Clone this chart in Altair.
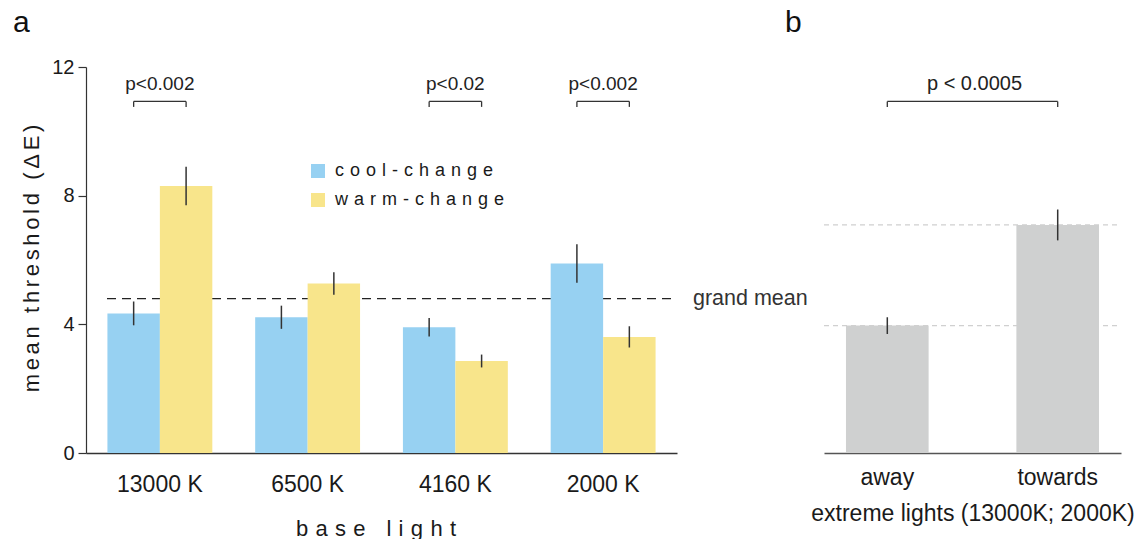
import altair as alt
import pandas as pd

# ---- data -------------------------------------------------------------
lights = ["13000 K", "6500 K", "4160 K", "2000 K"]
conditions = ["cool-change", "warm-change"]
cool_mean = [4.34, 4.22, 3.91, 5.89]
cool_err = [0.37, 0.36, 0.29, 0.60]
warm_mean = [8.30, 5.27, 2.86, 3.61]
warm_err = [0.60, 0.35, 0.20, 0.33]

sig_lights = ["13000 K", "4160 K", "2000 K"]
sig_labels = ["p<0.002", "p<0.02", "p<0.002"]

directions = ["away", "towards"]
dir_mean = [3.96, 7.09]
dir_err = [0.26, 0.48]
dir_p = "p < 0.0005"

# ---- style --------------------------------------------------------------
FONT = "Liberation Sans"
COOL = "#97D1F2"
WARM = "#F8E58B"
GREY = "#CFD0D0"
INK = "#333333"
WA, WB, H = 591, 297, 386
BRACKET_Y, BRACKET_FOOT, P_Y = 10.93, 10.76, 11.47
Y_SCALE = alt.Scale(domain=[0, 12], nice=False, zero=True)


def spaced(text, gap):
    return gap.join(text)


bars_df = pd.DataFrame({
    "light": lights * 2,
    "condition": [conditions[0]] * 4 + [conditions[1]] * 4,
    "value": cool_mean + warm_mean,
    "err": cool_err + warm_err,
})
sig_df = pd.DataFrame({"light": sig_lights, "label": sig_labels})
feet_df = sig_df.merge(pd.DataFrame({"condition": conditions}), how="cross")

x_a = alt.Scale(domain=lights, paddingInner=0.29, paddingOuter=0.145)
x_b = alt.Scale(domain=directions, paddingInner=0.515, paddingOuter=0.129)

y_axis_a = alt.Axis(values=[0, 4, 8, 12], grid=False, tickSize=8, labelPadding=4,
                    labelFontSize=20, labelFont=FONT, labelColor="#1a1a1a",
                    domainColor=INK, tickColor=INK, domainWidth=1.2, tickWidth=1.2,
                    titleFontSize=22, titleFont=FONT, titleFontWeight="normal",
                    titleColor="#1a1a1a", titleX=-48, titleY=H / 2 - 2,
                    titleBaseline="alphabetic")
Y_TITLE = spaced("mean threshold (ΔE)", "\u2006")

# ---- panel a ------------------------------------------------------------
base_a = alt.Chart(bars_df)

grand = base_a.transform_aggregate(grand="mean(value)")
grand_rule = grand.mark_rule(strokeDash=[9, 6], color="#222222", strokeWidth=1.2).encode(
    y=alt.Y("grand:Q", scale=Y_SCALE, title=Y_TITLE, axis=y_axis_a),
    x=alt.value(21), x2=alt.value(WA),
)
grand_text = grand.mark_text(align="left", baseline="middle", fontSize=21.5, font=FONT,
                             color="#333333").encode(
    y=alt.Y("grand:Q", scale=Y_SCALE, title=Y_TITLE),
    x=alt.value(WA + 16),
    text=alt.value("grand mean"),
)

bars = base_a.mark_bar().encode(
    x=alt.X("light:N", scale=x_a, title=spaced("base light", "\u2004"),
            axis=alt.Axis(labelAngle=0, ticks=False, tickSize=0, labelPadding=20,
                          labelFontSize=23, labelFont=FONT, labelColor="#1a1a1a",
                          domainColor=INK, domainWidth=1.5,
                          titleFontSize=22, titleFont=FONT, titleFontWeight="normal",
                          titleColor="#1a1a1a", titleX=WA / 2 - 6, titleY=82,
                          titleBaseline="alphabetic")),
    xOffset=alt.XOffset("condition:N", sort=conditions),
    y=alt.Y("value:Q", scale=Y_SCALE, title=Y_TITLE),
    color=alt.Color("condition:N", scale=alt.Scale(domain=conditions, range=[COOL, WARM]),
                    legend=alt.Legend(title=None, orient="none", legendX=223, legendY=95,
                                      symbolType="square", symbolSize=196,
                                      symbolStrokeWidth=0, labelFontSize=18,
                                      labelFont=FONT, labelColor="#1a1a1a",
                                      labelOffset=8, rowPadding=11, labelLimit=400,
                                      labelExpr=f"join(split(datum.label, ''), '{chr(0x2004)}')")),
)

errs = base_a.transform_calculate(
    lo="datum.value - datum.err", hi="datum.value + datum.err"
).mark_rule(color=INK, strokeWidth=1.5).encode(
    x=alt.X("light:N", scale=x_a),
    xOffset=alt.XOffset("condition:N", sort=conditions),
    y=alt.Y("lo:Q", scale=Y_SCALE, title=Y_TITLE),
    y2="hi:Q",
)

bracket = alt.Chart(sig_df).mark_rule(color=INK, strokeWidth=1.3).encode(
    x=alt.X("light:N", scale=x_a, bandPosition=0.25),
    x2=alt.X2("light", bandPosition=0.75),
    y=alt.datum(BRACKET_Y),
)
feet = alt.Chart(feet_df).mark_rule(color=INK, strokeWidth=1.3).encode(
    x=alt.X("light:N", scale=x_a),
    xOffset=alt.XOffset("condition:N", sort=conditions),
    y=alt.datum(BRACKET_FOOT),
    y2=alt.datum(BRACKET_Y),
)
p_text = alt.Chart(sig_df).mark_text(fontSize=19, font=FONT, color="#222222",
                                     baseline="middle").encode(
    x=alt.X("light:N", scale=x_a),
    y=alt.datum(P_Y),
    text="label:N",
)
tag_a = alt.Chart(pd.DataFrame({"t": ["a"]})).mark_text(
    align="left", baseline="alphabetic", fontSize=30, font=FONT, color="#111111"
).encode(x=alt.value(-73), y=alt.value(-35), text="t:N")

panel_a = alt.layer(grand_rule, grand_text, bars, errs, bracket, feet, p_text, tag_a).properties(
    width=WA, height=H
)

# ---- panel b ------------------------------------------------------------
dir_df = pd.DataFrame({"direction": directions, "value": dir_mean, "err": dir_err})
base_b = alt.Chart(dir_df)

guides = base_b.mark_rule(strokeDash=[5, 4], color="#D0D0D0", strokeWidth=1.2).encode(
    y=alt.Y("value:Q", scale=Y_SCALE, axis=None),
    x=alt.value(0), x2=alt.value(WB),
)
bars_b = base_b.mark_bar(color=GREY).encode(
    x=alt.X("direction:N", scale=x_b, title="extreme lights (13000K; 2000K)",
            axis=alt.Axis(labelAngle=0, ticks=False, tickSize=0, labelPadding=13,
                          labelFontSize=23, labelFont=FONT, labelColor="#1a1a1a",
                          domainColor="#555555", domainWidth=1.5,
                          titleFontSize=23, titleFont=FONT, titleFontWeight="normal",
                          titleColor="#1a1a1a", titleY=67, titleBaseline="alphabetic")),
    y=alt.Y("value:Q", scale=Y_SCALE, axis=None),
)
errs_b = base_b.transform_calculate(
    lo="datum.value - datum.err", hi="datum.value + datum.err"
).mark_rule(color=INK, strokeWidth=1.5).encode(
    x=alt.X("direction:N", scale=x_b),
    y=alt.Y("lo:Q", scale=Y_SCALE, axis=None),
    y2="hi:Q",
)
pair_df = pd.DataFrame({"start": [directions[0]], "end": [directions[1]], "label": [dir_p]})
bracket_b = alt.Chart(pair_df).mark_rule(color=INK, strokeWidth=1.3).encode(
    x=alt.X("start:N", scale=x_b, bandPosition=0.5),
    x2=alt.X2("end", bandPosition=0.5),
    y=alt.datum(BRACKET_Y),
)
feet_b = base_b.mark_rule(color=INK, strokeWidth=1.3).encode(
    x=alt.X("direction:N", scale=x_b),
    y=alt.datum(BRACKET_FOOT),
    y2=alt.datum(BRACKET_Y),
)
p_text_b = alt.Chart(pair_df).mark_text(fontSize=20, font=FONT, color="#222222",
                                        baseline="middle").encode(
    x=alt.value(WB / 2 + 2),
    y=alt.datum(P_Y),
    text="label:N",
)
tag_b = alt.Chart(pd.DataFrame({"t": ["b"]})).mark_text(
    align="left", baseline="alphabetic", fontSize=30, font=FONT, color="#111111"
).encode(x=alt.value(-39), y=alt.value(-35), text="t:N")

panel_b = alt.layer(guides, bars_b, errs_b, bracket_b, feet_b, p_text_b, tag_b).properties(
    width=WB, height=H
)

chart = alt.hconcat(panel_a, panel_b, spacing=147, bounds="flush").properties(
    padding={"left": 13, "top": 8, "right": 0, "bottom": 0}
).configure(font=FONT).configure_view(strokeWidth=0)

chart.save("out.html", embed_options={"renderer": "svg", "actions": False})
